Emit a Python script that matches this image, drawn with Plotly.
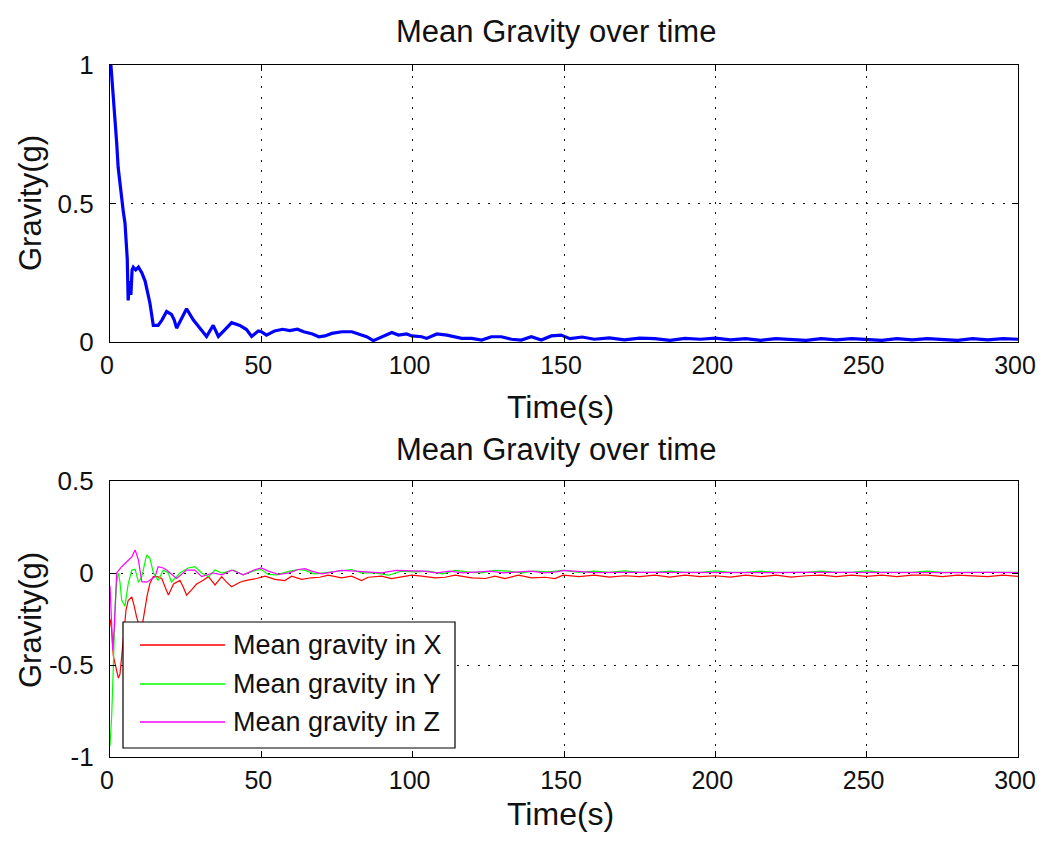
import plotly.graph_objects as go

# ---------------- data ----------------
t_mean = [0.3, 0.8, 1.1, 1.6, 2.2, 2.7, 3.3, 3.85, 4.4, 4.95, 5.4, 5.7, 6.0, 6.5, 6.9, 7.3, 7.7, 8.5,
          9.4, 10.5, 11.6, 12.4, 13.2, 14.3, 15.9, 17.2, 18.7, 20.3, 21.2, 22.0, 23.5, 25.3, 27.5,
          29.7, 31.9, 34.1, 35.8, 38.0, 40.2, 42.9, 45.1, 46.8, 49.0, 50.0, 51.7, 54.4, 57.0, 59.4,
          61.9, 64.0, 66.9, 69.0, 71.0, 73.3, 76.6, 79.9, 82.0, 84.8, 87.0, 90.4, 93.1, 95.3, 98.0,
          99.7, 103, 104.6, 108, 111.3, 114, 116.2, 119.5, 122.8, 126, 129.3, 132.6, 135.9, 139.2,
          142.5, 145.8, 149, 152, 156, 160, 165, 170, 175, 180, 185, 190, 195, 200, 205, 210, 215,
          220, 225, 230, 235, 240, 245, 250, 255, 260, 265, 270, 275, 280, 285, 290, 295, 300]
g_mean = [1.0, 0.93, 0.90, 0.80, 0.72, 0.63, 0.57, 0.51, 0.47, 0.43, 0.36, 0.30, 0.15, 0.22, 0.17,
          0.26, 0.27, 0.26, 0.27, 0.25, 0.22, 0.18, 0.14, 0.06, 0.06, 0.08, 0.11, 0.10, 0.08, 0.05,
          0.08, 0.12, 0.08, 0.05, 0.02, 0.06, 0.02, 0.045, 0.07, 0.06, 0.045, 0.02, 0.04, 0.037,
          0.025, 0.040, 0.046, 0.041, 0.046, 0.037, 0.029, 0.019, 0.022, 0.031, 0.037, 0.037, 0.029,
          0.019, 0.005, 0.022, 0.034, 0.025, 0.029, 0.022, 0.019, 0.013, 0.029, 0.025, 0.019, 0.013,
          0.013, 0.007, 0.019, 0.019, 0.010, 0.007, 0.019, 0.007, 0.022, 0.025, 0.012, 0.018, 0.010,
          0.015, 0.008, 0.014, 0.012, 0.006, 0.013, 0.010, 0.014, 0.008, 0.012, 0.006, 0.012, 0.010,
          0.006, 0.012, 0.008, 0.012, 0.010, 0.006, 0.012, 0.008, 0.012, 0.010, 0.006, 0.012, 0.008,
          0.012, 0.010]

t_x = [0.0, 0.5, 1.1, 1.8, 2.75, 3.3, 3.85, 4.6, 5.3, 6.0, 7.2, 8.0, 8.8, 10.3, 11.5, 12.3, 13.2,
       14.3, 15.7, 17.1, 18.3, 19.3, 21.0, 23.1, 24.3, 25.3, 27.0, 28.6, 30.8, 32.5, 34.7, 36.9,
       38.5, 40.2, 42.9, 45.1, 48.4, 50.6, 51.2, 54.5, 57.8, 60.0, 63.3, 66.6, 69.3, 72.1, 76.5,
       79.8, 83.1, 85.3, 89.7, 93.0, 96.3, 99.7, 103.0, 107.4, 110.7, 114.0, 119.5, 124.0, 127.2,
       130.5, 134.9, 139.3, 143.7, 147.0, 149.7, 155, 160, 165, 170, 175, 180, 185, 190, 195, 200,
       205, 210, 215, 220, 225, 230, 235, 240, 245, 250, 255, 260, 265, 270, 275, 280, 285, 290,
       295, 300]
g_x = [-0.25, -0.30, -0.45, -0.50, -0.57, -0.55, -0.45, -0.30, -0.20, -0.15, -0.13, -0.18, -0.24,
       -0.32, -0.20, -0.12, -0.056, -0.02, -0.02, -0.03, -0.08, -0.12, -0.06, -0.04, -0.08, -0.12,
       -0.09, -0.06, -0.04, -0.02, -0.065, -0.02, -0.05, -0.075, -0.05, -0.04, -0.03, -0.02, -0.017,
       -0.035, -0.041, -0.017, -0.035, -0.026, -0.023, -0.012, -0.026, -0.017, -0.041, -0.023,
       -0.017, -0.030, -0.023, -0.012, -0.017, -0.026, -0.023, -0.012, -0.026, -0.030, -0.017,
       -0.030, -0.012, -0.026, -0.023, -0.030, -0.012, -0.020, -0.012, -0.022, -0.015, -0.020,
       -0.012, -0.022, -0.012, -0.020, -0.015, -0.022, -0.012, -0.020, -0.012, -0.022, -0.015,
       -0.012, -0.020, -0.012, -0.018, -0.012, -0.020, -0.012, -0.012, -0.020, -0.012, -0.015,
       -0.020, -0.012, -0.018]

t_y = [0.0, 0.55, 1.1, 1.65, 2.2, 2.75, 3.3, 3.85, 4.95, 6.0, 7.2, 8.3, 9.4, 10.5, 12.1, 13.2, 14.3,
       15.9, 17.6, 19.3, 20.3, 23.1, 25.8, 28.1, 30.3, 32.5, 34.7, 37.0, 40.8, 44.0, 48.4, 50.0,
       52.3, 55, 59.4, 62.2, 64.4, 67.5, 70.8, 74, 79.8, 83, 87.5, 92, 96.3, 100.5, 105.2, 110, 114,
       118, 122.8, 127, 131.6, 136, 140, 145, 149.7, 155, 160, 165, 170, 175, 180, 185, 190, 195,
       200, 205, 210, 215, 220, 225, 230, 235, 240, 245, 250, 255, 260, 265, 270, 275, 280, 285,
       290, 295, 300]
g_y = [-0.94, -0.78, -0.51, -0.20, -0.05, 0.0, -0.05, -0.147, -0.18, -0.06, 0.016, 0.02, -0.05,
       -0.02, 0.098, 0.08, 0.003, -0.04, 0.016, 0.0, -0.05, 0.0, 0.027, 0.034, 0.0, -0.02, 0.016,
       0.0, 0.016, -0.01, 0.016, 0.019, -0.008, -0.010, 0.010, 0.019, 0.014, -0.005, 0.001, 0.006,
       0.019, 0.001, 0.001, -0.012, 0.010, 0.006, 0.010, -0.005, 0.014, 0.006, 0.001, 0.014, 0.010,
       0.001, 0.010, 0.006, 0.014, 0.003, 0.010, 0.003, 0.012, 0.004, 0.003, 0.010, 0.003, 0.004,
       0.012, 0.003, 0.003, 0.010, 0.003, 0.004, 0.003, 0.010, 0.003, 0.004, 0.012, 0.003, 0.003,
       0.004, 0.010, 0.003, 0.004, 0.003, 0.003, 0.004, 0.003]

t_z = [0.0, 0.5, 0.9, 1.4, 2.2, 3.85, 5.5, 7.2, 8.3, 9.4, 10.5, 12.1, 14.9, 15.9, 17.6, 18.7, 22.0,
       25.3, 28.0, 30.3, 34, 37, 40.2, 44, 48, 50, 52.3, 55.8, 59.2, 62.2, 64.4, 66.6, 70, 73.3,
       76.6, 81, 85.4, 89.7, 94.5, 99, 103.5, 108, 112.3, 116.7, 121, 125.5, 130, 134, 139, 143.5,
       147.5, 150, 160, 170, 180, 190, 200, 210, 220, 230, 240, 250, 260, 270, 280, 290, 300]
g_z = [-0.07, -0.30, -0.42, -0.30, 0.0, 0.034, 0.06, 0.088, 0.125, 0.07, -0.047, -0.05, -0.02,
       0.034, 0.027, 0.016, -0.03, 0.016, 0.016, -0.02, 0.0, -0.01, 0.016, -0.01, 0.019, 0.028,
       0.010, -0.008, 0.001, 0.019, 0.024, 0.010, -0.005, 0.006, 0.014, 0.010, 0.006, 0.001, 0.014,
       0.010, 0.010, 0.001, 0.010, 0.001, 0.006, 0.010, 0.001, 0.006, 0.010, 0.001, 0.006, 0.014,
       0.002, 0.003, 0.002, 0.002, 0.003, 0.002, 0.002, 0.003, 0.002, 0.002, 0.003, 0.002, 0.002,
       0.003, 0.002]

x_ticks = [0, 50, 100, 150, 200, 250, 300]
y_ticks_top = [0, 0.5, 1]
y_ticks_bot = [-1, -0.5, 0, 0.5]
y_ticktext_bot = ["-1", "-0.5", "0", "0.5"]
title_text = "Mean Gravity over time"
x_title = "Time(s)"
y_title = "Gravity(g)"
legend_names = ["Mean gravity in X", "Mean gravity in Y", "Mean gravity in Z"]
legend_colors = ["#FF0000", "#00FF00", "#FF00FF"]

# ---------------- figure ----------------
# the page body has an 8px margin, so the figure is 16px smaller than the window
OFF = 8
W, H = 1045 - 2 * OFF, 843 - 2 * OFF
FONT = "Liberation Sans, Arial, Helvetica, sans-serif"


def px(x):
    return (x - OFF) / W


def py(y):
    return 1 - (y - OFF) / H


fig = go.Figure()
fig.add_trace(go.Scatter(x=t_mean, y=g_mean, mode="lines", line=dict(color="#0000FF", width=3.2),
                         xaxis="x", yaxis="y", showlegend=False))
for t, g, name, col in zip([t_x, t_y, t_z], [g_x, g_y, g_z], legend_names, legend_colors):
    fig.add_trace(go.Scatter(x=t, y=g, mode="lines", name=name, line=dict(color=col, width=1.2),
                             xaxis="x2", yaxis="y2", showlegend=False))

axis_common = dict(showline=True, linecolor="#000", linewidth=1.2, mirror="ticks",
                   ticks="inside", ticklen=6, tickcolor="#000", tickwidth=1.2,
                   showgrid=True, gridcolor="#111", gridwidth=1.2, griddash="2px,8.5px",
                   zeroline=False, automargin=False, ticklabeloverflow="allow")
x_font = dict(family=FONT, size=25, color="#111")
y_font = dict(family=FONT, size=26, color="#111")

xd = [px(110), px(1018)]
fig.update_layout(
    width=W, height=H, autosize=False,
    margin=dict(l=0, r=0, t=0, b=0, pad=0, autoexpand=False),
    paper_bgcolor="white", plot_bgcolor="white",
    showlegend=False,
    xaxis=dict(domain=xd, range=[0, 300], tickvals=x_ticks, anchor="y", ticklabelstandoff=1,
               ticklabelshift=-3, tickfont=x_font, **axis_common),
    yaxis=dict(domain=[py(342), py(65)], range=[0, 1], tickvals=y_ticks_top, anchor="x",
               ticklabelstandoff=10, tickfont=y_font, **axis_common),
    xaxis2=dict(domain=xd, range=[0, 300], tickvals=x_ticks, anchor="y2", ticklabelstandoff=1,
                ticklabelshift=-3, tickfont=x_font, **axis_common),
    yaxis2=dict(domain=[py(757), py(481)], range=[-1, 0.5], tickvals=y_ticks_bot,
                ticktext=y_ticktext_bot, anchor="x2", ticklabelstandoff=10, tickfont=y_font,
                **axis_common),
)

ann = []
for yc in (32, 449):
    ann.append(dict(text=title_text, x=px(556), y=py(yc), xref="paper", yref="paper",
                    showarrow=False, xanchor="center", yanchor="middle",
                    font=dict(family=FONT, size=31, color="#111")))
for yc in (407, 814):
    ann.append(dict(text=x_title, x=px(560), y=py(yc), xref="paper", yref="paper",
                    showarrow=False, xanchor="center", yanchor="middle",
                    font=dict(family=FONT, size=32, color="#111")))
for yc in (203, 620):
    ann.append(dict(text=y_title, x=px(30), y=py(yc), xref="paper", yref="paper",
                    showarrow=False, xanchor="center", yanchor="middle", textangle=-90,
                    font=dict(family=FONT, size=31, color="#111")))

# custom legend box (MATLAB style, long line samples)
shapes = [dict(type="rect", xref="paper", yref="paper", x0=px(123), x1=px(455), y0=py(748),
               y1=py(622), line=dict(color="#000", width=1.2), fillcolor="white", layer="above")]
for i, (name, col) in enumerate(zip(legend_names, legend_colors)):
    yc = [645, 684, 722][i]
    shapes.append(dict(type="line", xref="paper", yref="paper", x0=px(140), x1=px(225),
                       y0=py(yc), y1=py(yc), line=dict(color=col, width=1.5), layer="above"))
    ann.append(dict(text=name, x=px(231), y=py(yc), xref="paper", yref="paper", showarrow=False,
                    xanchor="left", yanchor="middle",
                    font=dict(family=FONT, size=27, color="#111")))

fig.update_layout(annotations=ann, shapes=shapes)
fig.write_html("out.html")
